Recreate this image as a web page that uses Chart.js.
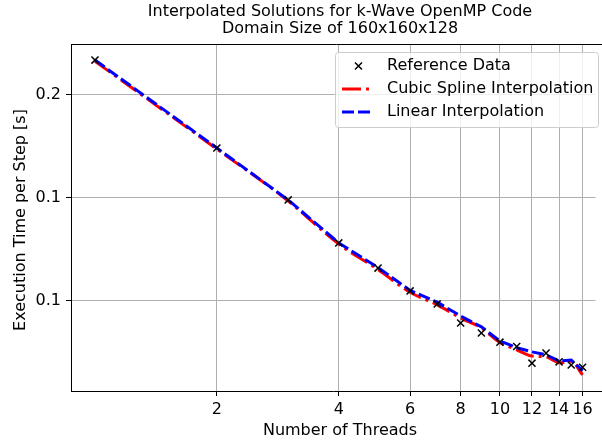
<!DOCTYPE html>
<html>
<head>
<meta charset="utf-8">
<script src="https://cdn.jsdelivr.net/npm/chart.js@4"></script>
<style>
  html, body { margin: 0; padding: 0; background: #fff; overflow: hidden; }
</style>
</head>
<body>
<canvas id="myChart" width="602" height="445"></canvas>
<script>

const threads = [1, 2, 3, 4, 5, 6, 7, 8, 9, 10, 11, 12, 13, 14, 15, 16]
const refTime = [0.253, 0.140, 0.0987, 0.0739, 0.0624, 0.0535, 0.0490, 0.0431, 0.0403, 0.0379, 0.0368, 0.0329, 0.0352, 0.0332, 0.0325, 0.0320]
const splineTime = [0.251, 0.139, 0.0980, 0.0733, 0.0618, 0.0530, 0.0487, 0.0446, 0.0417, 0.0378, 0.0360, 0.0345, 0.0343, 0.0330, 0.0333, 0.0304]
const linearTime = [0.253, 0.140, 0.0987, 0.0739, 0.0626, 0.0537, 0.0496, 0.0452, 0.0420, 0.0382, 0.0365, 0.0355, 0.0348, 0.0334, 0.0336, 0.0313]

const xTicks = [2, 4, 6, 8, 10, 12, 14, 16]
const yTicks = [0.05, 0.1, 0.2]
const yTickLabels = ['0.1', '0.1', '0.2']

const titleLines = ['Interpolated Solutions for k-Wave OpenMP Code', 'Domain Size of 160x160x128']
const xLabel = 'Number of Threads'
const yLabel = 'Execution Time per Step [s]'
const legendLabels = ['Reference Data', 'Cubic Spline Interpolation', 'Linear Interpolation']

const font = 'DejaVu Sans'
const gridColor = '#b0b0b0'


function toPoints(ys) {
    return threads.map((x, i) => ({ x: x, y: ys[i] }))
}


// texts, top spine and legend box \\
const decorations = {
    id: 'decorations',
    afterDraw(chart) {
        const c = chart.ctx
        const area = chart.chartArea
        c.save()

        // top spine
        c.strokeStyle = '#000'
        c.lineWidth = 1
        c.beginPath()
        c.moveTo(area.left, area.top + 0.5)
        c.lineTo(chart.width, area.top + 0.5)
        c.moveTo(area.right, area.bottom + 0.5)
        c.lineTo(chart.width, area.bottom + 0.5)
        c.stroke()

        c.fillStyle = '#000'
        c.textAlign = 'center'
        c.textBaseline = 'middle'
        c.font = '16px "' + font + '"'
        c.fillText(titleLines[0], 340, 12)
        c.fillText(titleLines[1], 340, 29)
        c.fillText(xLabel, 340, 431)

        c.save()
        c.translate(21, 220)
        c.rotate(-Math.PI / 2)
        c.fillText(yLabel, 0, 0)
        c.restore()

        // legend
        const bx = 335, by = 52, bw = 263, bh = 75
        c.fillStyle = 'rgba(255,255,255,0.8)'
        c.strokeStyle = '#cccccc'
        c.beginPath()
        c.roundRect(bx + 0.5, by + 0.5, bw, bh, 3)
        c.fill()
        c.stroke()

        const rows = [66, 89, 112]
        c.textAlign = 'left'
        c.fillStyle = '#000'
        legendLabels.forEach((t, i) => c.fillText(t, 387, rows[i]))

        // marker
        c.strokeStyle = '#000'
        c.lineWidth = 1.5
        c.beginPath()
        c.moveTo(355, rows[0] - 3.5); c.lineTo(362, rows[0] + 3.5)
        c.moveTo(362, rows[0] - 3.5); c.lineTo(355, rows[0] + 3.5)
        c.stroke()

        c.lineWidth = 3
        c.strokeStyle = '#ff0000'
        c.setLineDash([19, 5, 3, 5])
        c.beginPath()
        c.moveTo(342, rows[1]); c.lineTo(371, rows[1])
        c.stroke()

        c.strokeStyle = '#0000ff'
        c.setLineDash([12, 4])
        c.beginPath()
        c.moveTo(342, rows[2]); c.lineTo(371, rows[2])
        c.stroke()

        c.restore()
    }
}


var ctx = document.getElementById('myChart')
var lineChart = new Chart(ctx, {
    type: 'scatter',
    data: {
        datasets: [{
            label: legendLabels[0],
            data: toPoints(refTime),
            pointStyle: 'crossRot',
            pointRadius: 5,
            pointBorderWidth: 1.5,
            borderColor: '#000',
            backgroundColor: '#000',
            showLine: false,
            order: 0,
        }, {
            label: legendLabels[1],
            data: toPoints(splineTime),
            showLine: true,
            borderColor: '#ff0000',
            borderWidth: 3,
            borderDash: [19, 5, 3, 5],
            cubicInterpolationMode: 'monotone',
            pointRadius: 0,
            order: 2,
        }, {
            label: legendLabels[2],
            data: toPoints(linearTime),
            showLine: true,
            borderColor: '#0000ff',
            borderWidth: 3,
            borderDash: [12, 4],
            tension: 0,
            pointRadius: 0,
            order: 1,
        }]
    },
    options: {
        responsive: false,
        animation: false,
        layout: { padding: { top: 44, left: 0, right: 0, bottom: 0 } },
        plugins: {
            legend: { display: false },
            title: { display: false },
            tooltip: { enabled: false },
        },
        scales: {
            x: {
                type: 'logarithmic',
                min: 0.8725,
                max: 17.22,
                afterBuildTicks: (s) => { s.ticks = xTicks.map(v => ({ value: v })) },
                afterFit: (s) => { s.height = 54; s.paddingLeft = 0; s.paddingRight = 0 },
                ticks: {
                    autoSkip: false,
                    maxRotation: 0,
                    color: '#000',
                    font: { family: font, size: 16 },
                    padding: 4,
                    callback: (v) => String(v),
                },
                grid: { color: gridColor, lineWidth: 1, tickColor: '#000', tickLength: 5 },
                border: { color: '#000', width: 1 },
            },
            y: {
                type: 'logarithmic',
                min: 0.02728,
                max: 0.2819,
                afterBuildTicks: (s) => { s.ticks = yTicks.map(v => ({ value: v })) },
                afterFit: (s) => { s.width = 71; s.paddingTop = 0; s.paddingBottom = 0 },
                ticks: {
                    autoSkip: false,
                    color: '#000',
                    font: { family: font, size: 16 },
                    padding: 5,
                    callback: (v) => yTickLabels[yTicks.indexOf(v)],
                },
                grid: { color: gridColor, lineWidth: 1, tickColor: '#000', tickLength: 5 },
                border: { color: '#000', width: 1 },
            }
        }
    },
    plugins: [decorations]
})

</script>
</body>
</html>
